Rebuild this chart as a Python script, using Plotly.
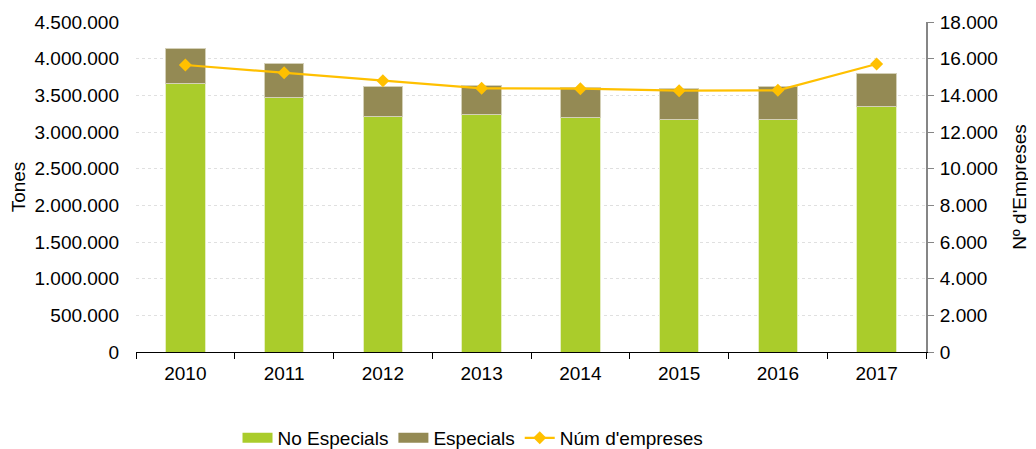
import plotly.graph_objects as go

years = ["2010", "2011", "2012", "2013", "2014", "2015", "2016", "2017"]
no_especials = [3668000, 3473000, 3214000, 3240000, 3200000, 3177000, 3164000, 3341000]
especials = [464000, 457000, 409000, 392000, 409000, 414000, 459000, 459000]
num_empreses = [15655, 15236, 14800, 14382, 14364, 14255, 14273, 15709]

FONT = "Liberation Sans, Arial, sans-serif"
FS = 19
C_NO = "#AACC2B"
C_ESP = "#948A54"
C_LINE = "#FFC000"

fig = go.Figure()
fig.add_trace(go.Bar(x=years, y=no_especials, name="No Especials", showlegend=False,
                     legendgroup="no",
                     marker=dict(color=C_NO, line=dict(color="#E6EFC0", width=1))))
fig.add_trace(go.Bar(x=years, y=especials, name="Especials", showlegend=False,
                     legendgroup="esp",
                     marker=dict(color=C_ESP, line=dict(color="#D4D0B8", width=1))))
# legend-only entries so the swatches are wide rectangles like the reference
fig.add_trace(go.Scatter(x=[None], y=[None], name="No Especials", mode="lines",
                         legendgroup="no", line=dict(color=C_NO, width=10)))
fig.add_trace(go.Scatter(x=[None], y=[None], name="Especials", mode="lines",
                         legendgroup="esp", line=dict(color=C_ESP, width=10)))
fig.add_trace(go.Scatter(x=years, y=num_empreses, name="Núm d'empreses", yaxis="y2",
                         mode="lines+markers",
                         line=dict(color=C_LINE, width=2.2),
                         marker=dict(symbol="diamond", size=10, color=C_LINE)))

# page body has an 8px margin; size the figure so the plot lands where the reference has it
fig.update_layout(
    width=1028, height=441,
    margin=dict(l=128, r=110, t=14, b=97, autoexpand=False),
    paper_bgcolor="white", plot_bgcolor="white",
    barmode="stack", bargap=0.6,
    separators=",.",
    font=dict(family=FONT, size=FS, color="#000000"),
    showlegend=True,
    legend=dict(orientation="h", x=0.4266, xanchor="center", yref="container", y=0.025,
                yanchor="middle", font=dict(size=FS), traceorder="normal", itemwidth=30),
    xaxis=dict(type="category", showline=True, linecolor="#000000", linewidth=1,
               ticks="outside", tickson="boundaries", ticklen=6, tickcolor="#000000",
               ticklabelstandoff=4,
               showgrid=False, tickfont=dict(size=FS), automargin=False),
    yaxis=dict(range=[0, 4500000], dtick=500000, tickformat=",d",
               showgrid=True, gridcolor="#E0E0E0", gridwidth=1, griddash="dot",
               showline=False, zeroline=False, ticks="", automargin=False,
               ticklabelstandoff=16,
               title=dict(text="Tones", font=dict(size=FS), standoff=8),
               tickfont=dict(size=FS)),
    yaxis2=dict(range=[0, 18000], dtick=2000, tickformat=",d", overlaying="y", side="right",
                showgrid=False, zeroline=False, showline=True, linecolor="#868686", linewidth=2,
                ticks="outside", ticklen=6, tickcolor="#868686", automargin=False,
                ticklabelstandoff=2,
                title=dict(text="Nº d'Empreses", font=dict(size=FS), standoff=16),
                tickfont=dict(size=FS)),
)

fig.write_html("out.html")
